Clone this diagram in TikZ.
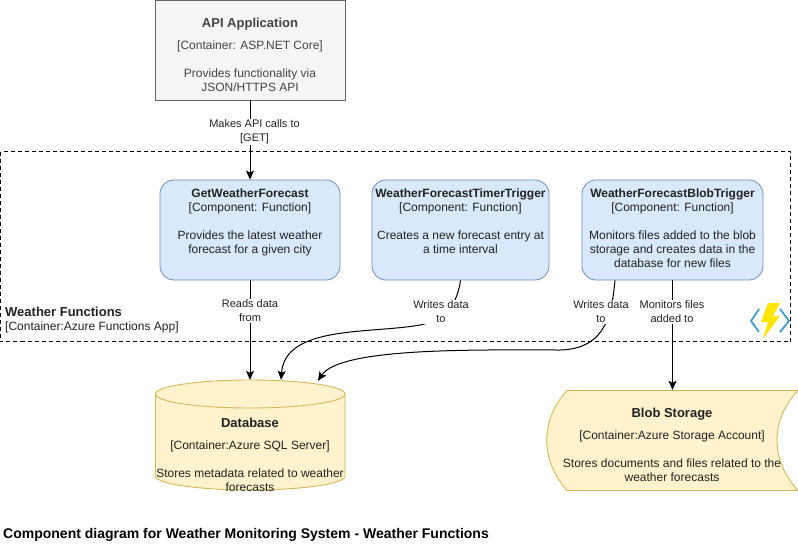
\documentclass[tikz,border=0pt]{standalone}
\usepackage{fontspec}
\setmainfont{Liberation Sans}
\usetikzlibrary{arrows.meta}
\definecolor{greyfill}{HTML}{F5F5F5}
\definecolor{greyline}{HTML}{666666}
\definecolor{greytext}{HTML}{444444}
\definecolor{bluefill}{HTML}{DAE8FC}
\definecolor{blueline}{HTML}{6C8EBF}
\definecolor{yellowfill}{HTML}{FFF2CC}
\definecolor{yellowline}{HTML}{D6B656}
\definecolor{txt}{HTML}{222222}
\definecolor{iconblue}{HTML}{3F9FD0}
\newcommand{\topgap}{\rule{0pt}{20pt}}
\newcommand{\bigtitle}[1]{{\fontsize{13}{14}\selectfont\textbf{#1}}}
\tikzset{
  x=1pt,y=-1pt,
  boxtext/.style={font=\fontsize{12}{14}\selectfont,text=txt,align=center,inner sep=0pt},
  comp/.style={boxtext,draw=blueline,fill=bluefill,rounded corners=14pt,minimum height=100pt,line width=.8pt},
  api/.style={boxtext,text=greytext,draw=greyline,fill=greyfill,minimum width=190pt,minimum height=100pt,line width=.8pt},
  shapetext/.style={boxtext},
  flow/.style={-{Stealth[length=9pt,width=8pt,inset=2pt]},line width=1pt,black},
  edgelabel/.style={font=\fontsize{11}{14}\selectfont,text=txt,align=center,fill=white,inner sep=1pt},
  store/.style={draw=yellowline,fill=yellowfill,line width=.9pt},
}
\begin{document}
\begin{tikzpicture}
\useasboundingbox (0,0) rectangle (798,551);
\fill[white] (0,0) rectangle (798,551);
% boundary
\draw[line width=.8pt,dash pattern=on 4pt off 3pt] (0.5,151.5) rectangle (790.5,341.5);
\node[anchor=north west,inner sep=0pt,align=left,font=\fontsize{12}{14}\selectfont,text=txt] (boundary) at (5,307)
  {\bigtitle{Weather Functions}\\{[}Container:Azure Functions App{]}};
% icon
\draw[iconblue,line width=1.8pt] (759,309) -- (751,321) -- (759,332);
\draw[iconblue,line width=1.8pt] (780,309) -- (789,321) -- (780,332);
\fill[orange!20!yellow] (768,303) -- (780,303) -- (773,316) -- (780,316) -- (763,339) -- (768,322) -- (761,322) -- cycle;
% stores
\draw[store] (155.5,394) -- (155.5,476) arc[start angle=180,end angle=360,x radius=94.75pt,y radius=14pt] -- (345,394) arc[start angle=0,end angle=180,x radius=94.75pt,y radius=14pt] -- cycle;
\draw[store] (155.5,394) arc[start angle=180,end angle=360,x radius=94.75pt,y radius=14pt];
\draw[store] (567,390.5) -- (798,390.5) .. controls (770,420) and (770,460) .. (798,490.5) -- (567,490.5) .. controls (540,460) and (540,420) .. (567,390.5) -- cycle;
% nodes
\node[api] (apiapp) at (250,50) {\topgap\bigtitle{API Application}\\[8pt]{[}Container: ASP.NET Core{]}\\[14pt]Provides functionality via\\JSON/HTTPS API};
\node[comp,minimum width=180pt] (getw) at (250,230) {\textbf{GetWeatherForecast}\\{[}Component: Function{]}\\[14pt]Provides the latest weather\\forecast for a given city\\[4pt]~};
\node[comp,minimum width=177pt] (timer) at (460.5,230) {\textbf{WeatherForecastTimerTrigger}\\{[}Component: Function{]}\\[14pt]Creates a new forecast entry at\\a time interval\\[4pt]~};
\node[comp,minimum width=181pt] (blobt) at (672.5,230) {\textbf{WeatherForecastBlobTrigger}\\{[}Component: Function{]}\\[14pt]Monitors files added to the blob\\storage and creates data in the\\database for new files\\[-10pt]~};
\node[shapetext,minimum width=190pt,minimum height=150pt] (db) at (250,455) {\bigtitle{Database}\\[8pt]{[}Container:Azure SQL Server{]}\\[14pt]Stores metadata related to weather\\forecasts};
\node[shapetext,minimum width=250pt,minimum height=110pt] (blob) at (672,445) {\bigtitle{Blob Storage}\\[8pt]{[}Container:Azure Storage Account{]}\\[14pt]Stores documents and files related to the\\weather forecasts};
\node[anchor=west,inner sep=0pt,font=\bfseries\fontsize{14}{16}\selectfont,text=black] (caption) at (3,535) {Component diagram for Weather Monitoring System - Weather Functions};
% connectors
\draw[flow] (apiapp.south) -- (getw.north);
\draw[flow] (getw.south) -- (db.north);
\draw[flow] (timer.south) .. controls (457,305) and (445,320) .. (420,325) .. controls (370,334) and (285,325) .. ([xshift=31pt]db.north);
\draw[flow] (blobt.south -| 615,0) .. controls (612,310) and (608,349) .. (560,350) .. controls (480,350) and (340,347) .. ([xshift=68pt,yshift=-1pt]db.north);
\draw[flow] (blobt.south) -- (blob.north -| blobt.south);
% labels
\node[edgelabel] (l1) at (254.5,132) {Makes API calls to\\{[}GET{]}};
\node[edgelabel] (l2) at (250,311) {Reads data\\from};
\node[edgelabel] (l3) at (441,312) {Writes data\\to};
\node[edgelabel] (l4) at (601,312) {Writes data\\to};
\node[edgelabel] (l5) at (672,312) {Monitors files\\added to};
\end{tikzpicture}
\end{document}
